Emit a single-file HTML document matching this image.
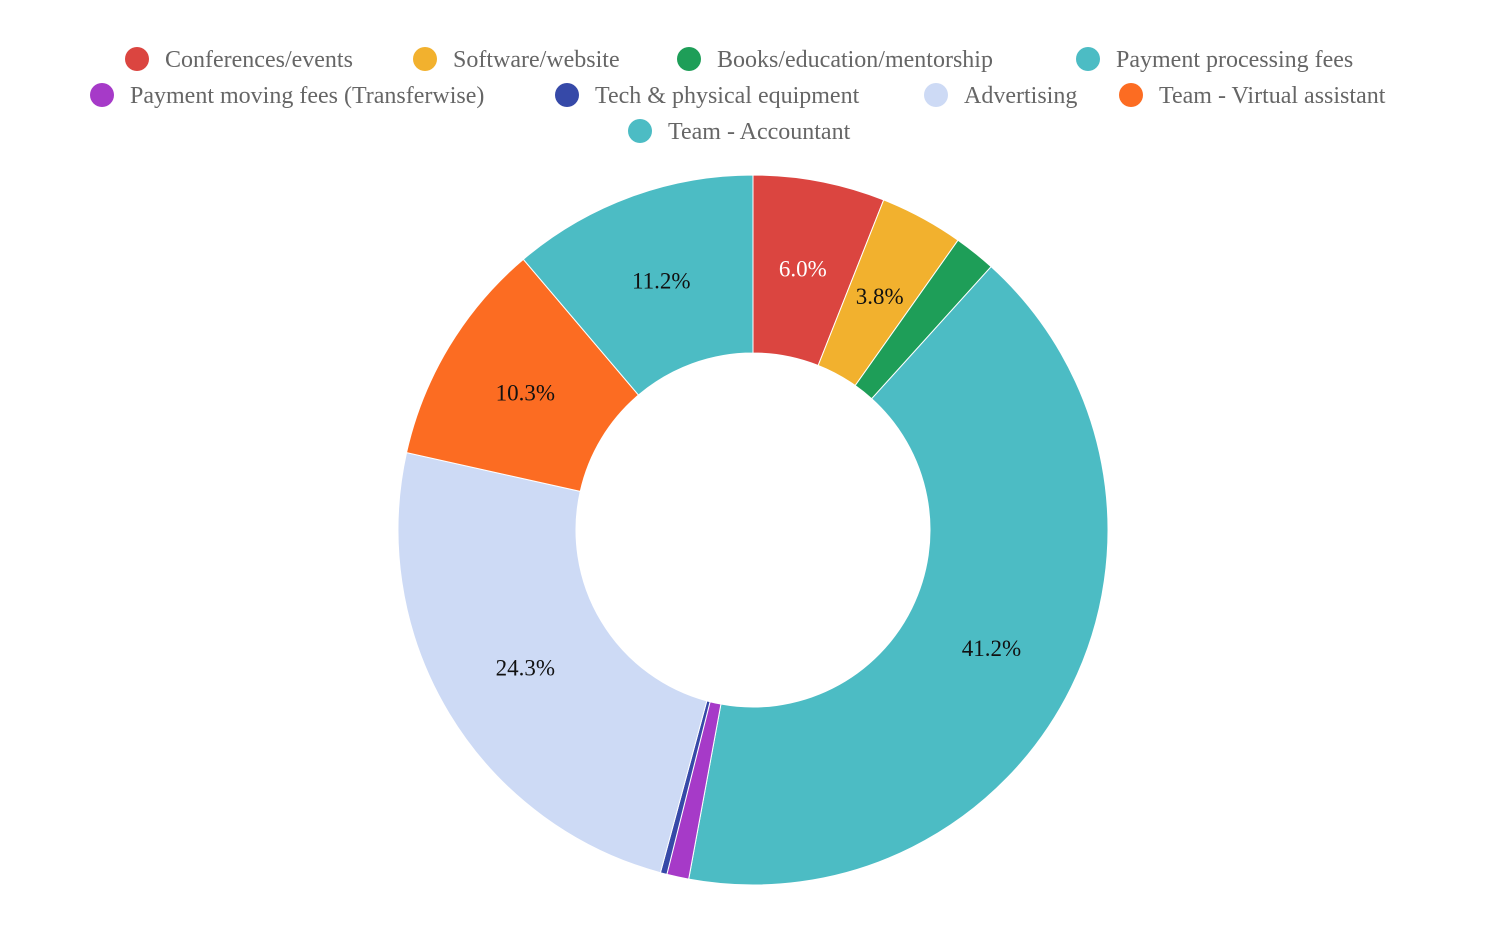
<!DOCTYPE html>
<html><head><meta charset="utf-8"><style>
body{margin:0;background:#fff;width:1506px;height:931px;overflow:hidden;font-family:"Liberation Serif",serif}
</style></head><body>
<svg width="1506" height="931">
<g id="legend"></g>
<g id="slices"></g>
<g id="labels"></g>
</svg>
<script>
const categories=["Conferences/events","Software/website","Books/education/mentorship","Payment processing fees","Payment moving fees (Transferwise)","Tech & physical equipment","Advertising","Team - Virtual assistant","Team - Accountant"];
const values=[6.0,3.8,1.9,41.2,1.0,0.3,24.3,10.3,11.2];
const colors=["#db4540","#f2b12e","#1e9e58","#4cbcc4","#a63ac8","#3649a8","#cddaf5","#fc6c22","#4cbcc4"];
const legendX=[137,425,689,1088,102,567,936,1131,640];
const legendRow=[0,0,0,0,1,1,1,1,2];
const NS="http://www.w3.org/2000/svg";
const cx=753,cy=530,R=355,r=177;
const lg=document.getElementById('legend'),sg=document.getElementById('slices'),tg=document.getElementById('labels');
categories.forEach((c,i)=>{
  const y=59+legendRow[i]*36;
  const g=document.createElementNS(NS,'g');
  
  
  const ci=document.createElementNS(NS,'circle');
  ci.setAttribute('cx',legendX[i]);ci.setAttribute('cy',y);ci.setAttribute('r',12);ci.setAttribute('fill',colors[i]);
  const t=document.createElementNS(NS,'text');
  t.setAttribute('x',legendX[i]+28);t.setAttribute('y',y+8);t.setAttribute('font-size','24');t.setAttribute('fill','#666');
  t.textContent=c;
  g.appendChild(ci);g.appendChild(t);lg.appendChild(g);
});
const total=values.reduce((a,b)=>a+b,0);
let acc=0;
function pt(rad,a){return [cx+rad*Math.sin(a),cy-rad*Math.cos(a)];}
values.forEach((v,i)=>{
  const a0=acc/total*2*Math.PI;acc+=v;const a1=acc/total*2*Math.PI;
  const large=(a1-a0)>Math.PI?1:0;
  const p0=pt(R,a0),p1=pt(R,a1),q1=pt(r,a1),q0=pt(r,a0);
  const p=document.createElementNS(NS,'path');
  p.setAttribute('d',`M${p0}A${R},${R} 0 ${large} 1 ${p1}L${q1}A${r},${r} 0 ${large} 0 ${q0}Z`);
  p.setAttribute('fill',colors[i]);p.setAttribute('stroke','#fff');p.setAttribute('stroke-width','1');
  
  
  sg.appendChild(p);
  if(v>=3){
    const m=pt(266,(a0+a1)/2);
    const t=document.createElementNS(NS,'text');
    t.setAttribute('x',m[0]);t.setAttribute('y',m[1]+8);t.setAttribute('text-anchor','middle');
    t.setAttribute('font-size','23');t.setAttribute('fill',i===0?'#fff':'#111');
    
    
    t.textContent=v.toFixed(1)+'%';
    tg.appendChild(t);
  }
});
</script>
</body></html>
